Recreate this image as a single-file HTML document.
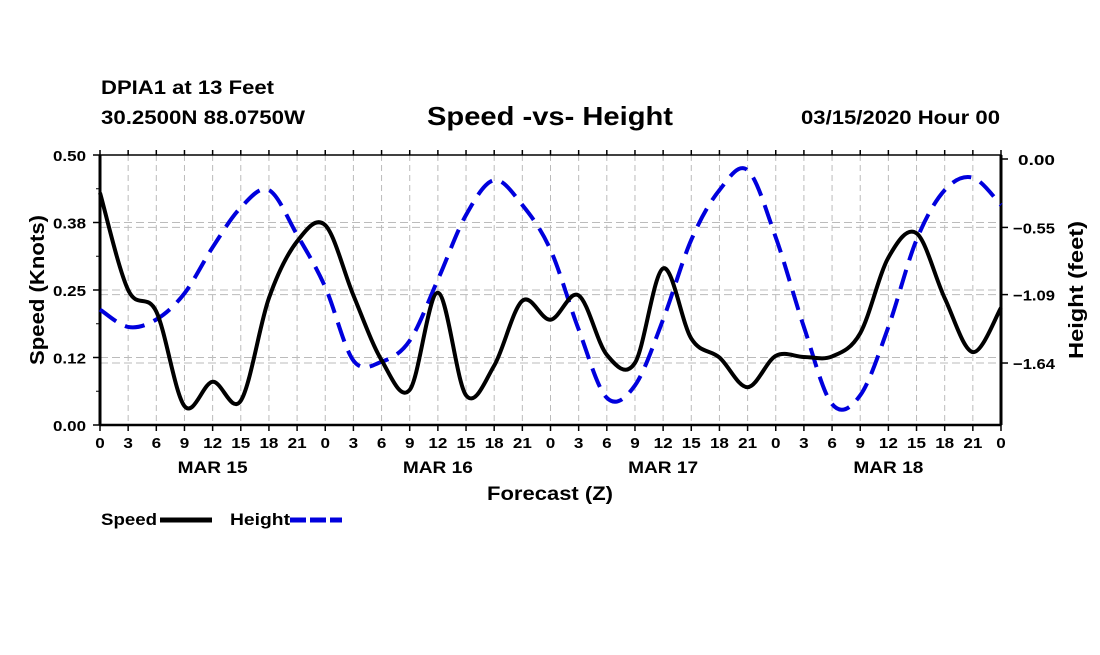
<!DOCTYPE html>
<html><head><meta charset="utf-8"><style>
body{margin:0;background:#fff;}
svg text{font-family:"Liberation Sans",Arial,sans-serif;font-weight:bold;fill:#000;}
</style></head><body>
<svg id="chart" width="1100" height="650" xmlns="http://www.w3.org/2000/svg">
<text x="101" y="94" font-size="19" textLength="173" lengthAdjust="spacingAndGlyphs">DPIA1 at 13 Feet</text>
<text x="101" y="124" font-size="19" textLength="204" lengthAdjust="spacingAndGlyphs">30.2500N 88.0750W</text>
<text x="427" y="125" font-size="26" textLength="246" lengthAdjust="spacingAndGlyphs">Speed -vs- Height</text>
<text x="801" y="124" font-size="19" textLength="199" lengthAdjust="spacingAndGlyphs">03/15/2020 Hour 00</text>
<g id="grid"></g><g id="axes"></g><g id="series"></g>
<text x="487" y="500" font-size="19" textLength="126" lengthAdjust="spacingAndGlyphs">Forecast (Z)</text>
<text transform="translate(44,290) rotate(-90)" font-size="20" text-anchor="middle" textLength="150" lengthAdjust="spacingAndGlyphs">Speed (Knots)</text>
<text transform="translate(1083,290) rotate(-90)" font-size="20" text-anchor="middle" textLength="138" lengthAdjust="spacingAndGlyphs">Height (feet)</text>
<g>
<text x="101" y="525" font-size="17" textLength="56" lengthAdjust="spacingAndGlyphs">Speed</text>
<line x1="160" y1="520" x2="212" y2="520" stroke="#000" stroke-width="5"/>
<text x="230" y="525" font-size="17" textLength="60" lengthAdjust="spacingAndGlyphs">Height</text>
<line x1="290" y1="520" x2="342" y2="520" stroke="#0000dd" stroke-width="5" stroke-dasharray="16,4"/>
</g>
</svg>
<script>
const hours = [0,3,6,9,12,15,18,21,24,27,30,33,36,39,42,45,48,51,54,57,60,63,66,69,72,75,78,81,84,87,90,93,96];
const speedValues = [0.43,0.25,0.21,0.035,0.08,0.045,0.235,0.34,0.37,0.24,0.12,0.065,0.245,0.055,0.11,0.23,0.195,0.24,0.13,0.115,0.29,0.16,0.125,0.07,0.128,0.126,0.127,0.17,0.31,0.355,0.235,0.135,0.217];
const heightValues = [-1.21,-1.35,-1.29,-1.08,-0.71,-0.39,-0.25,-0.61,-1.03,-1.62,-1.63,-1.46,-0.97,-0.45,-0.17,-0.37,-0.73,-1.37,-1.92,-1.82,-1.29,-0.65,-0.25,-0.09,-0.63,-1.35,-1.97,-1.9,-1.35,-0.65,-0.25,-0.15,-0.37];
const xTickLabels = ["0","3","6","9","12","15","18","21"];
const dayLabels = ["MAR 15","MAR 16","MAR 17","MAR 18"];
const leftTicks = [0,0.125,0.25,0.375,0.5];
const leftTickLabels = ["0.00","0.12","0.25","0.38","0.50"];
const rightTicks = [0,-0.55,-1.09,-1.64];
const rightTickLabels = ["0.00","\u22120.55","\u22121.09","\u22121.64"];

const L=100,R=1001,T=155,B=425;
const xs=h=>L+(R-L)*h/96;
const yL=v=>B-(B-T)*v/0.5;
const yR=v=>159-124.4*v;
const NS="http://www.w3.org/2000/svg";
function mk(tag,attrs,parent){const e=document.createElementNS(NS,tag);for(const k in attrs)e.setAttribute(k,attrs[k]);parent.appendChild(e);return e;}
const grid=document.getElementById('grid'),axes=document.getElementById('axes'),series=document.getElementById('series');
for(let h=0;h<=96;h+=3){
  const x=xs(h);
  if(h>0&&h<96){const g=mk('line',{x1:x,y1:T,x2:x,y2:B,stroke:'#bbb','stroke-width':1,'stroke-dasharray':'6,4'},grid);
  
  }
  mk('line',{x1:x,y1:B,x2:x,y2:B+6,stroke:'#000','stroke-width':1.5},axes);
  mk('line',{x1:x,y1:T,x2:x,y2:T-5,stroke:'#000','stroke-width':1.5},axes);
  const lab=h===96?"0":xTickLabels[(h%24)/3];
  const t=mk('text',{x:x,y:B+23,'font-size':15,'text-anchor':'middle',textLength:lab.length*9.5,lengthAdjust:'spacingAndGlyphs'},axes);
  
  
  t.textContent=lab;
}
dayLabels.forEach((d,i)=>{const t=mk('text',{x:xs(12+24*i)-35,y:473,'font-size':17,textLength:70,lengthAdjust:'spacingAndGlyphs'},axes);
  
  
  t.textContent=d;});
leftTicks.forEach((v,i)=>{const y=yL(v);
  if(v>0&&v<0.5){const g=mk('line',{x1:L,y1:y,x2:R,y2:y,stroke:'#bbb','stroke-width':1,'stroke-dasharray':'8,4'},grid);
  
  }
  mk('line',{x1:L-7,y1:y,x2:L,y2:y,stroke:'#000','stroke-width':1.5},axes);
  const t=mk('text',{x:53,y:y+6,'font-size':15,textLength:33,lengthAdjust:'spacingAndGlyphs'},axes);
  
  
  t.textContent=leftTickLabels[i];});
for(let v=0.0625;v<0.5;v+=0.125){mk('line',{x1:L-4,y1:yL(v),x2:L,y2:yL(v),stroke:'#000','stroke-width':1},axes);}
rightTicks.forEach((v,i)=>{const y=yR(v);
  if(v<0){const g=mk('line',{x1:L,y1:y,x2:R,y2:y,stroke:'#bbb','stroke-width':1,'stroke-dasharray':'8,4'},grid);
  
  }
  mk('line',{x1:R,y1:y,x2:R+7,y2:y,stroke:'#000','stroke-width':1.5},axes);
  const w=v===0?37:42;
  const t=mk('text',{x:1055-w,y:y+6,'font-size':15,textLength:w,lengthAdjust:'spacingAndGlyphs'},axes);
  
  
  t.textContent=rightTickLabels[i];});
const fr=mk('rect',{x:L,y:T,width:R-L,height:B-T,fill:'none',stroke:'#000','stroke-width':1.5},axes);


mk('line',{x1:L,y1:T,x2:L,y2:B,stroke:'#000','stroke-width':3},axes);
mk('line',{x1:R,y1:T,x2:R,y2:B,stroke:'#000','stroke-width':3},axes);
mk('line',{x1:L,y1:B,x2:R,y2:B,stroke:'#000','stroke-width':2.5},axes);
function smooth(pts){let d=`M${pts[0][0]},${pts[0][1]}`;
  for(let i=0;i<pts.length-1;i++){const p0=pts[Math.max(i-1,0)],p1=pts[i],p2=pts[i+1],p3=pts[Math.min(i+2,pts.length-1)];
    d+=` C${p1[0]+(p2[0]-p0[0])/6},${p1[1]+(p2[1]-p0[1])/6} ${p2[0]-(p3[0]-p1[0])/6},${p2[1]-(p3[1]-p1[1])/6} ${p2[0]},${p2[1]}`;}
  return d;}
const hp=mk('path',{d:smooth(hours.map((h,i)=>[xs(h),yR(heightValues[i])])),fill:'none',stroke:'#0000dd','stroke-width':4,'stroke-dasharray':'20,10'},series);


const sp=mk('path',{d:smooth(hours.map((h,i)=>[xs(h),yL(speedValues[i])])),fill:'none',stroke:'#000','stroke-width':4},series);


</script>
</body></html>
